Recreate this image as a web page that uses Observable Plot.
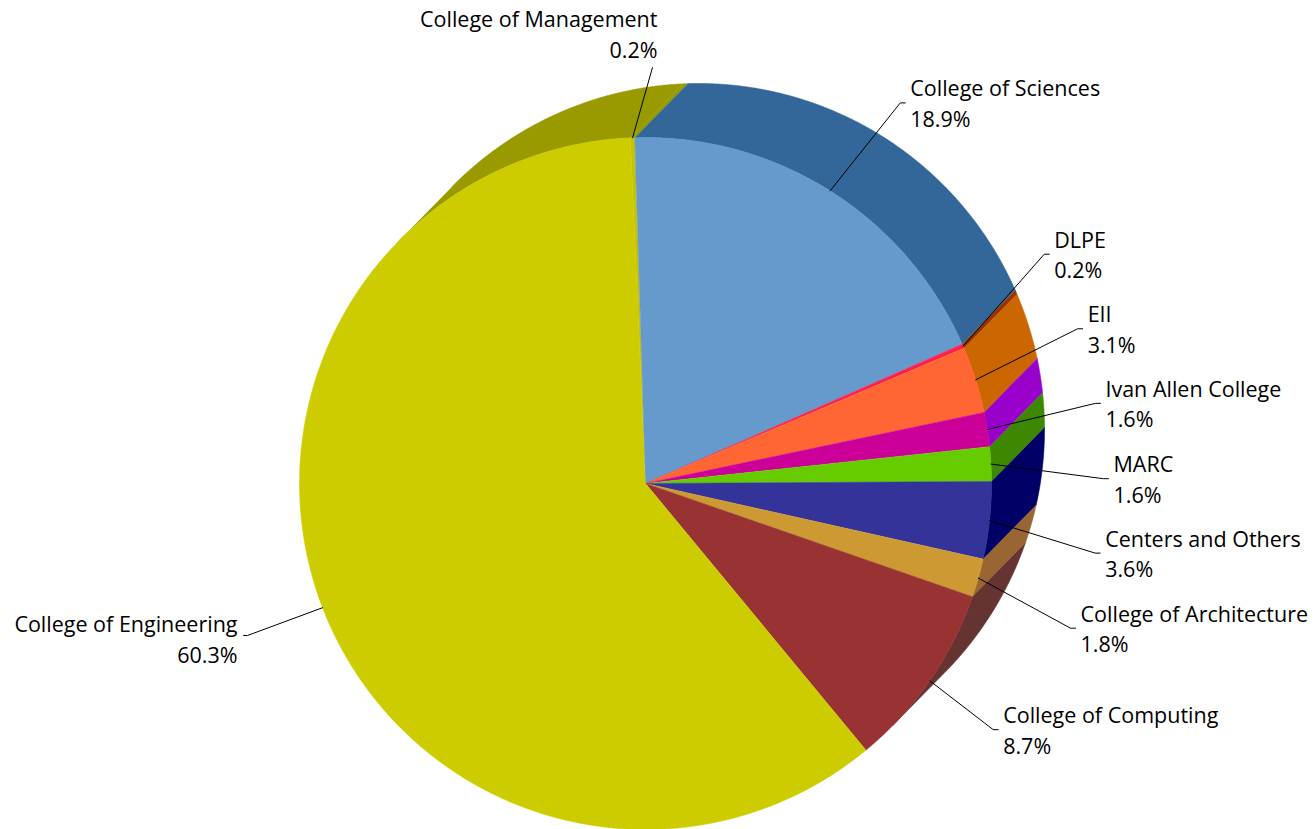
<!DOCTYPE html>
<html>
<head>
<meta charset="utf-8">
<script src="https://cdn.jsdelivr.net/npm/d3@7"></script>
<script src="https://cdn.jsdelivr.net/npm/@observablehq/plot@0.6"></script>
<style>
  html, body { margin: 0; padding: 0; background: #ffffff; }
  #chart svg { display: block; }
</style>
</head>
<body>
<div id="chart"></div>
<script>
// ---- data ----
const categories = [
  "College of Management", "College of Sciences", "DLPE", "EII",
  "Ivan Allen College", "MARC", "Centers and Others",
  "College of Architecture", "College of Computing", "College of Engineering"
];
const shares = [0.2, 18.9, 0.2, 3.1, 1.6, 1.6, 3.6, 1.8, 8.7, 60.3];
const shareLabels = ["0.2%", "18.9%", "0.2%", "3.1%", "1.6%", "1.6%", "3.6%", "1.8%", "8.7%", "60.3%"];
const faceColors = ["#c4c400", "#6699cc", "#ff1f4b", "#ff6633", "#cc0099", "#66cc00", "#333399", "#cc9933", "#993333", "#cccc00"];
const sideColors = ["#999900", "#336699", "#993300", "#cc6600", "#9900cc", "#3d8800", "#000066", "#996633", "#663333", "#999900"];

// ---- layout ----
const W = 1316, H = 829;
const CX = 645, CY = 483, R = 346;
const DEPTH = [53, -54];          // extrusion offset (px)
const START_ANGLE = -2.5;         // degrees clockwise from 12 o'clock
// leader elbow position in polar form [angle deg, radius px] and label side
const labelElbows = [[0.96, 416], [33.8, 458], [60.1, 460], [70.3, 459], [79.9, 457],
                     [89.4, 458], [98.8, 455], [108.8, 449], [125.3, 426], [249.1, 426]];
const labelSides = ["above", "right", "right", "right", "right", "right", "right", "right", "right", "left"];

const rad = a => a * Math.PI / 180;
function pt(a, r, ox = 0, oy = 0) {
  return [CX + ox + r * Math.sin(rad(a)), CY + oy - r * Math.cos(rad(a))];
}
function arcPts(a0, a1, ox = 0, oy = 0) {
  const n = Math.max(3, Math.ceil((a1 - a0) / 0.3) + 1);
  return d3.range(n).map(k => pt(a0 + (a1 - a0) * k / (n - 1), R, ox, oy));
}

const total = d3.sum(shares);
let acc = START_ANGLE;
const slices = categories.map((c, i) => {
  const a0 = acc, a1 = acc + shares[i] / total * 360;
  acc = a1;
  return {i, c, a0, a1, mid: (a0 + a1) / 2};
});

// visible (front-facing) range of side wall
const lo = Math.atan(DEPTH[1] / DEPTH[0]) * 180 / Math.PI;
const hi = lo + 180;

const sideRows = [];
slices.forEach(s => {
  [-1, 0, 1].forEach(k => {
    const a = Math.max(s.a0, lo + 360 * k), b = Math.min(s.a1, hi + 360 * k);
    if (b > a) {
      const poly = arcPts(a, b).concat(arcPts(a, b, DEPTH[0], DEPTH[1]).reverse());
      const id = `side-${s.i}-${k}`;
      poly.forEach(([x, y]) => sideRows.push({id, x, y, color: sideColors[s.i]}));
    }
  });
});

const faceRows = [];
slices.forEach(s => {
  const poly = [[CX, CY]].concat(arcPts(s.a0, s.a1));
  poly.forEach(([x, y]) => faceRows.push({id: `face-${s.i}`, x, y, color: faceColors[s.i]}));
});

const leaderRows = [];
const labelRows = [];
slices.forEach(s => {
  const side = labelSides[s.i];
  const [ea, er] = labelElbows[s.i];
  const start = pt(s.mid, R);
  const elbow = pt(ea, er);
  const pts = [start, elbow];
  if (side === "right") pts.push([elbow[0] + 5, elbow[1]]);
  if (side === "left") pts.push([elbow[0] - 4, elbow[1]]);
  pts.forEach(([x, y]) => leaderRows.push({id: `lead-${s.i}`, x, y}));
  let tx, ty;
  if (side === "right") { tx = elbow[0] + 10; ty = elbow[1] - 1; }
  else if (side === "left") { tx = elbow[0] - 10; ty = elbow[1] + 2; }
  else { tx = elbow[0] + 5; ty = elbow[1] - 35; }
  labelRows.push({x: tx, y: ty, side, text: `${s.c}\n${shareLabels[s.i]}`});
});

const textOpts = {x: "x", y: "y", text: "text", lineAnchor: "middle", fontSize: 21.5,
                  lineHeight: 1.42, fill: "#000000", fontFamily: "'Open Sans', 'Noto Sans', sans-serif"};

const chart = Plot.plot({
  width: W,
  height: H,
  margin: 0,
  style: {background: "#ffffff", overflow: "visible"},
  x: {domain: [0, W], axis: null},
  y: {domain: [H, 0], axis: null},
  color: {type: "identity"},
  marks: [
    Plot.line(sideRows, {x: "x", y: "y", z: "id", fill: "color", stroke: "color", strokeWidth: 0.6, curve: "linear"}),
    Plot.line(faceRows, {x: "x", y: "y", z: "id", fill: "color", stroke: "color", strokeWidth: 0.5, curve: "linear"}),
    Plot.line(leaderRows, {x: "x", y: "y", z: "id", stroke: "#000000", strokeWidth: 1, curve: "linear"}),
    Plot.text(labelRows.filter(d => d.side === "right"), {...textOpts, textAnchor: "start"}),
    Plot.text(labelRows.filter(d => d.side !== "right"), {...textOpts, textAnchor: "end"})
  ]
});
document.getElementById("chart").appendChild(chart);
</script>
</body>
</html>
